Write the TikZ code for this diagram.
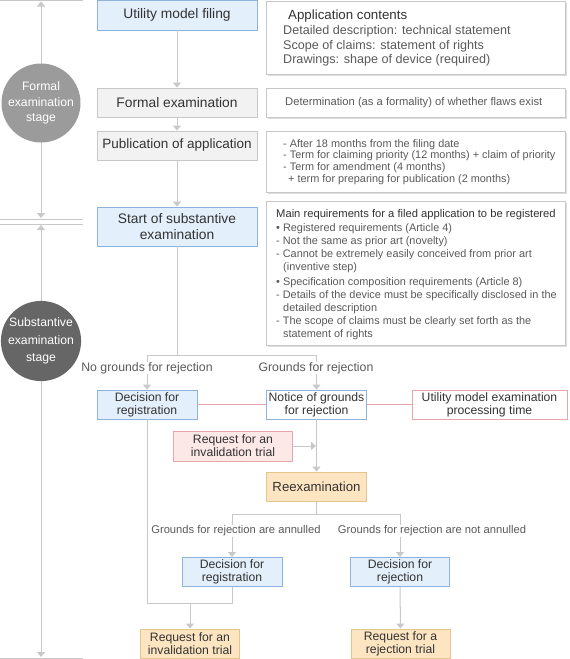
\documentclass[tikz,border=0pt]{standalone}
\usepackage{fontspec}
\setmainfont{Liberation Sans}
\usetikzlibrary{arrows.meta,shadows}
\definecolor{bfill}{HTML}{E3EFFB}
\definecolor{bbord}{HTML}{8DB3DC}
\definecolor{gfill}{HTML}{F2F2F2}
\definecolor{gbord}{HTML}{C8C8C8}
\definecolor{ofill}{HTML}{FDE5C2}
\definecolor{obord}{HTML}{E6C48E}
\definecolor{pfill}{HTML}{FDE8E8}
\definecolor{pbord}{HTML}{E8A6AA}
\definecolor{lgray}{HTML}{C8C8C8}
\definecolor{txt}{HTML}{333333}
\definecolor{subtxt}{HTML}{5A5A5A}
\definecolor{circA}{HTML}{9B9B9B}
\definecolor{circB}{HTML}{666666}
\definecolor{shadowc}{HTML}{DDDDDD}
\begin{document}
\begin{tikzpicture}[x=1pt,y=-1pt,
  basebox/.style={draw, line width=0.9pt, inner sep=0pt, align=center, text=txt},
  bluebox/.style={basebox, draw=bbord, fill=bfill},
  whitebluebox/.style={basebox, draw=bbord, fill=white},
  graybox/.style={basebox, draw=gbord, fill=gfill},
  orangebox/.style={basebox, draw=obord, fill=ofill},
  pinkbox/.style={basebox, draw=pbord, fill=pfill},
  whitepinkbox/.style={basebox, draw=pbord, fill=white},
  infobox/.style={draw=gbord, fill=white, line width=0.9pt, inner sep=0pt, align=left, text=subtxt,
     drop shadow={shadow xshift=2pt, shadow yshift=-2pt, fill=shadowc, opacity=1}},
  conn/.style={draw=lgray, line width=1pt},
  arr/.style={conn, -{Triangle[width=8pt,length=5pt]}},
  arrboth/.style={conn, {Triangle[width=8pt,length=5pt]}-{Triangle[width=8pt,length=5pt]}},
  pinkline/.style={draw=pbord, line width=1pt},
  lbl/.style={text=subtxt, font=\fontsize{12.3}{14}\selectfont, fill=white, inner sep=0.5pt},
  lblsmall/.style={lbl, font=\fontsize{11.2}{13}\selectfont},
  stagec/.style={circle, minimum size=79pt, inner sep=0pt, text=white, align=center},
  bigf/.style={font=\fontsize{13.8}{16}\selectfont},
  midf/.style={font=\fontsize{12.2}{13}\selectfont},
]
\useasboundingbox (0,0) rectangle (570,659);

% left stage lines
\coordinate (ltop) at (41,1.5);
\coordinate (lmid1) at (41,218);
\coordinate (lmid2) at (41,225);
\coordinate (lbot) at (41,657);
\draw[arrboth] (ltop) -- (lmid1);
\draw[arrboth] (lmid2) -- (lbot);
\coordinate (h1a) at (0,0.5);   \coordinate (h1b) at (83,0.5);
\coordinate (h2a) at (0,219.5); \coordinate (h2b) at (83,219.5);
\coordinate (h3a) at (0,224.3); \coordinate (h3b) at (83,224.3);
\coordinate (h4a) at (0,658.2); \coordinate (h4b) at (83,658.2);
\draw[conn] (h1a) -- (h1b);
\draw[conn] (h2a) -- (h2b);
\draw[conn] (h3a) -- (h3b);
\draw[conn] (h4a) -- (h4b);

\node[stagec, fill=circA, font=\fontsize{12.2}{15.5}\selectfont] (formalc) at (41,103) {Formal\\examination\\stage};
\node[stagec, fill=circB, minimum size=80pt, font=\fontsize{12.2}{17.5}\selectfont] (substc) at (41,341) {Substantive\\examination\\stage};

% main column
\node[bluebox, bigf, minimum width=160pt, minimum height=30pt] (filing) at (177,15) {Utility model filing};
\node[graybox, bigf, minimum width=160pt, minimum height=29pt] (formal) at (177,102.5) {Formal examination};
\node[graybox, font=\fontsize{13.5}{16}\selectfont, minimum width=160pt, minimum height=29pt] (pub) at (177,145.5) {Publication of application};
\node[bluebox, bigf, minimum width=160pt, minimum height=39pt] (start) at (177,226.5) {Start of substantive\\examination};

% info boxes
\node[infobox, minimum width=299pt, minimum height=73pt, anchor=north west] (appinfo) at (266,1) {};
\node[anchor=west, align=left, text=subtxt, inner sep=0pt, font=\fontsize{12.6}{14.5}\selectfont] (apptext) at (283,38)
  {\hspace*{5pt}{\color{txt}\fontsize{13.3}{15}\selectfont Application contents}\\[0.5pt]
   Detailed description: technical statement\\
   Scope of claims: statement of rights\\
   Drawings: shape of device (required)};

\node[infobox, minimum width=299pt, minimum height=29pt, anchor=north west] (detinfo) at (266,88) {};
\node[anchor=west, text=subtxt, inner sep=0pt, font=\fontsize{11.2}{13}\selectfont] (dettext) at (285,102.5)
  {Determination (as a formality) of whether flaws exist};

\node[infobox, minimum width=299pt, minimum height=61pt, anchor=north west] (pubinfo) at (266,131) {};
\node[anchor=west, align=left, text=subtxt, inner sep=0pt, font=\fontsize{10.9}{11.7}\selectfont] (pubtext) at (283,162)
  {- After 18 months from the filing date\\
   - Term for claiming priority (12 months) + claim of priority\\
   - Term for amendment (4 months)\\
   \hspace*{5pt}+ term for preparing for publication (2 months)};

\node[infobox, minimum width=299pt, minimum height=144pt, anchor=north west] (reqinfo) at (266,201) {};
\node[anchor=west, align=left, text=subtxt, inner sep=0pt, font=\fontsize{10.9}{13}\selectfont] (reqtext) at (276,274.5)
  {{\color{txt}\fontsize{11.2}{13}\selectfont Main requirements for a filed application to be registered}\\[1pt]
   \textbullet\ Registered requirements (Article 4)\\
   - Not the same as prior art (novelty)\\
   - Cannot be extremely easily conceived from prior art\\
   \hspace*{7pt}(inventive step)\\[2.5pt]
   \textbullet\ Specification composition requirements (Article 8)\\
   - Details of the device must be specifically disclosed in the\\
   \hspace*{7pt}detailed description\\
   - The scope of claims must be clearly set forth as the\\
   \hspace*{7pt}statement of rights};

% lower part
\node[bluebox, midf, minimum width=100pt, minimum height=29pt] (dec1) at (147,404.5) {Decision for\\registration};
\node[whitebluebox, midf, minimum width=100pt, minimum height=29pt] (notice) at (316.5,404.5) {Notice of grounds\\for rejection};
\node[whitepinkbox, midf, minimum width=155pt, minimum height=29pt] (proc) at (489.5,404.5) {Utility model examination\\processing time};
\node[pinkbox, midf, minimum width=119pt, minimum height=30pt] (invreq1) at (233,446) {Request for an\\invalidation trial};
\node[orangebox, font=\fontsize{13.2}{15}\selectfont, minimum width=100pt, minimum height=29pt] (reexam) at (316.5,486.5) {Reexamination};
\node[bluebox, midf, minimum width=100pt, minimum height=29pt] (dec2) at (232,572) {Decision for\\registration};
\node[bluebox, midf, minimum width=99pt, minimum height=29pt] (decrej) at (400,572) {Decision for\\rejection};
\node[orangebox, midf, minimum width=99pt, minimum height=29pt] (invreq2) at (190,643.5) {Request for an\\invalidation trial};
\node[orangebox, midf, minimum width=99pt, minimum height=29pt] (rejreq) at (400.5,643.5) {Request for a\\rejection trial};

% connectors
\draw[arr] (filing) -- (formal);
\draw[arr] (formal) -- (pub);
\draw[arr] (pub) -- (start);

\coordinate (s1) at (177,355);
\coordinate (s1l) at (147,355);
\coordinate (s1r) at (316.5,355);
\draw[conn] (start.south) -- (s1);
\draw[conn] (s1l) -- (s1r);
\draw[arr] (s1l) -- (dec1.north);
\draw[arr] (s1r) -- (notice.north);
\node[lbl] (lno) at (147,368) {No grounds for rejection};
\node[lbl] (lyes) at (316,368) {Grounds for rejection};

\draw[pinkline] (dec1.east) -- (notice.west);
\draw[pinkline] (notice.east) -- (proc.west);

\draw[arr] (notice.south) -- (reexam.north);
\coordinate (jn) at (316,446);
\draw[arr] (invreq1.east) -- (jn);

\coordinate (s2) at (316.5,514);
\coordinate (s2l) at (232,514);
\coordinate (s2r) at (400,514);
\draw[conn] (reexam.south) -- (s2);
\draw[conn] (s2l) -- (s2r);
\draw[arr] (s2l) -- (dec2.north);
\draw[arr] (s2r) -- (decrej.north);
\node[lblsmall] (lann) at (236,531) {Grounds for rejection are annulled};
\node[lblsmall] (lnot) at (432,531) {Grounds for rejection are not annulled};

\coordinate (m1) at (147,603);
\coordinate (m2) at (232,603);
\coordinate (m3) at (190,603);
\draw[conn] (dec1.south) -- (m1) -- (m2) -- (dec2.south);
\draw[arr] (m3) -- (invreq2.north);
\draw[arr] (decrej) -- (rejreq);
\end{tikzpicture}
\end{document}
